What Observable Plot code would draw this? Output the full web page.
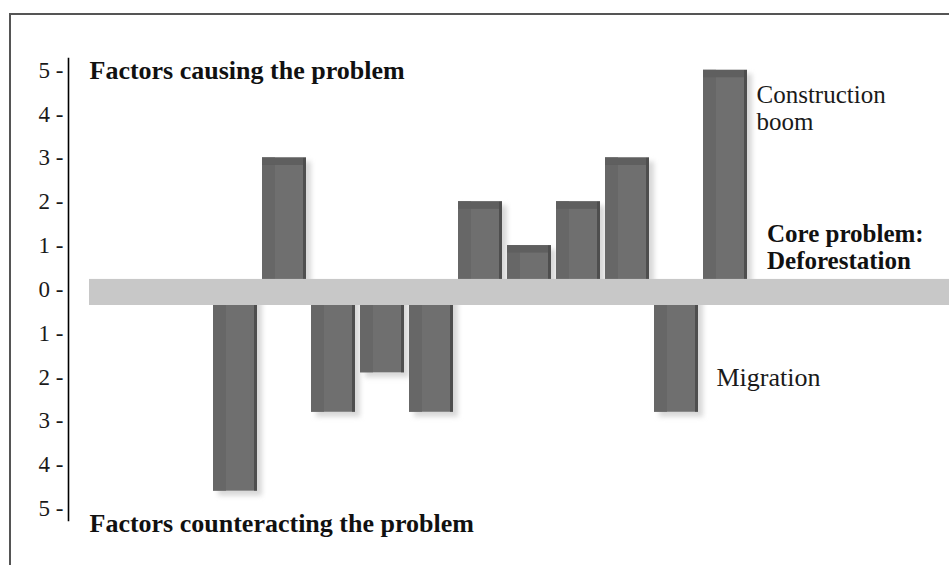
<!DOCTYPE html>
<html>
<head>
<meta charset="utf-8">
<script src="https://cdn.jsdelivr.net/npm/d3@7"></script>
<script src="https://cdn.jsdelivr.net/npm/@observablehq/plot@0.6"></script>
<style>
  html, body { margin: 0; padding: 0; background: #fff; overflow: hidden; }
  #wrap { position: relative; width: 949px; height: 565px; }
  #border { position: absolute; left: 9px; top: 13px; width: 1000px; height: 600px;
            border-left: 2px solid #555; border-top: 2px solid #555; }
  #chart { position: absolute; left: 0; top: 0; }
</style>
</head>
<body>
<div id="wrap"><div id="border"></div><div id="chart"></div></div>
<script>
// Factors (unnamed except where annotated), in left-to-right order
const factors = ["F1","F2","F3","F4","F5","F6","F7","F8","F9","Migration","Construction boom"];
// Influence: positive = causing the problem, negative = counteracting it
const influence = [-4.6, 3, -2.8, -1.9, -2.8, 2, 1, 2, 3, -2.8, 5];
const yTicks = [5, 4, 3, 2, 1, 0, -1, -2, -3, -4, -5];
const headerTop = "Factors causing the problem";
const headerBottom = "Factors counteracting the problem";
const coreLabel = "Core problem:\nDeforestation";
const coreTop = 0.23, coreBottom = -0.365;
const constructionNote = {factor: "Construction boom", text: "Construction\nboom", y: 4.15};
const migrationNote = {factor: "Migration", text: "Migration", y: -2.02};

const bars = factors.map((f, i) => ({factor: f, v: influence[i]}));
const pos = bars.filter(d => d.v > 0);
const neg = bars.filter(d => d.v < 0);
const serif = "'Liberation Serif', 'DejaVu Serif', serif";

const chart = Plot.plot({
  width: 949,
  height: 565,
  marginLeft: 68,
  marginRight: 0,
  marginTop: 58,
  marginBottom: 45,
  style: {fontFamily: serif, background: "transparent", overflow: "visible"},
  x: {domain: factors, range: [208.5, 751.5], paddingInner: 0.1, paddingOuter: 0.05, axis: null},
  y: {domain: [-5.27, 5.27], axis: null},
  marks: [
    // soft shadows
    Plot.barY(pos, {x: "factor", y: "v", fill: "#d8d8d8", dx: 5, dy: 4, imageFilter: "blur(2.5px)"}),
    Plot.barY(neg, {x: "factor", y: "v", fill: "#d8d8d8", dx: 5, dy: 5, imageFilter: "blur(2.5px)"}),
    // bar bodies
    Plot.barY(bars, {x: "factor", y: "v", fill: "#6f6f6f"}),
    Plot.barY(bars, {x: "factor", y: "v", fill: "#676767", insetRight: 31}),
    Plot.barY(bars, {x: "factor", y: "v", fill: "#4e4e4e", insetLeft: 41}),
    // top caps for positive bars
    Plot.rectY(pos, {x: "factor", y1: "v", y2: d => d.v - 0.17, fill: "#5f5f5f", insetRight: 3}),
    // core problem band
    Plot.rect([{}], {y1: coreTop, y2: coreBottom, fill: "#c8c8c8", insetLeft: 21}),
    // y axis
    Plot.frame({anchor: "left", stroke: "#000", strokeWidth: 1.6}),
    Plot.axisY({ticks: yTicks, tickFormat: d => `${Math.abs(d)} -`, tickSize: 0, tickPadding: 5,
                fontSize: 23, fill: "#1a1a1a"}),
    // headers
    Plot.text([headerTop], {text: d => d, y: 5, frameAnchor: "left", dx: 21, textAnchor: "start",
                lineAnchor: "middle", fontSize: 26, fontWeight: "bold", fill: "#111"}),
    Plot.text([headerBottom], {text: d => d, y: -5, frameAnchor: "left", dx: 21, dy: 15, textAnchor: "start",
                lineAnchor: "middle", fontSize: 26, fontWeight: "bold", fill: "#111"}),
    // core problem label
    Plot.text([coreLabel], {text: d => d, x: () => "Construction boom", y: 0.98, dx: 41.5, textAnchor: "start",
                lineAnchor: "middle", lineHeight: 1.08, fontSize: 25, fontWeight: "bold", fill: "#111"}),
    // annotations
    Plot.text([constructionNote], {text: "text", x: "factor", y: "y", dx: 31, textAnchor: "start",
                lineAnchor: "middle", lineHeight: 1.08, fontSize: 25, fill: "#1a1a1a"}),
    Plot.text([migrationNote], {text: "text", x: "factor", y: "y", dx: 40, textAnchor: "start",
                lineAnchor: "middle", fontSize: 26, fill: "#1a1a1a"})
  ]
});
document.getElementById("chart").appendChild(chart);
</script>
</body>
</html>
